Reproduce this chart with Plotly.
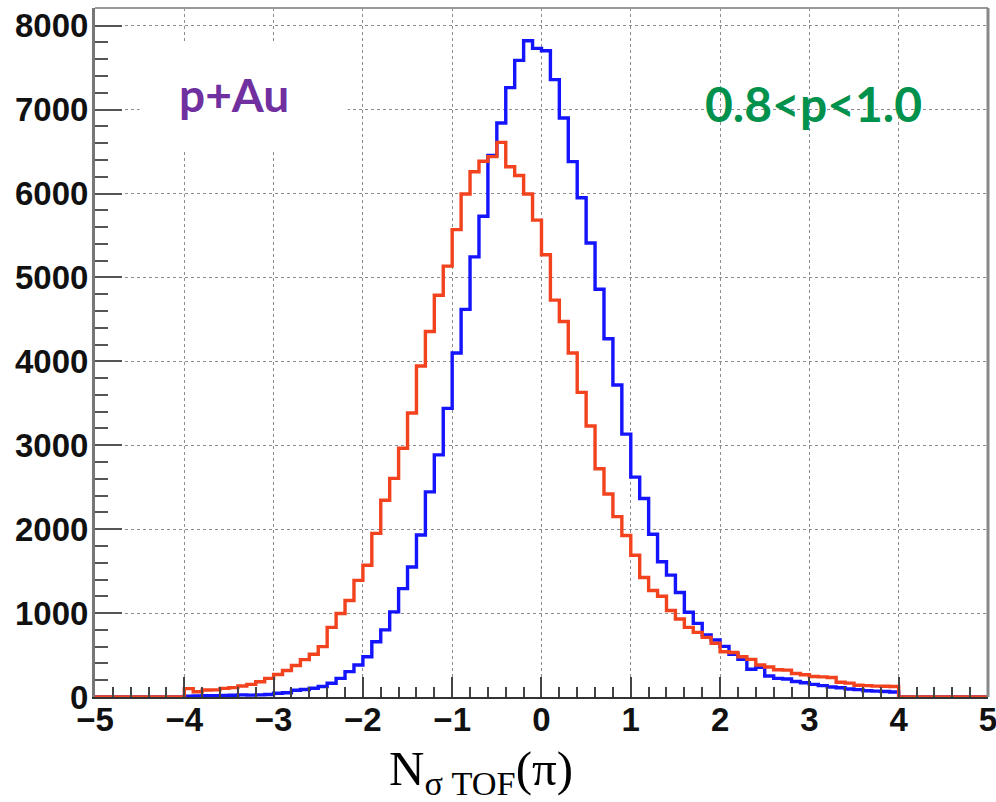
import numpy as np
import plotly.graph_objects as go

# ---------------- data ----------------
bin_lo = -4.0          # first filled bin
bin_w = 0.1            # bin width
axis_lo, axis_hi = -5.0, 5.0

blue_counts = [
    10, 12, 15, 15, 18, 20, 25, 22, 25, 30,
    45, 50, 80, 90, 105, 125, 163, 222, 302, 381,
    480, 658, 800, 1015, 1292, 1550, 1930, 2444, 2885, 3440,
    4100, 4620, 5245, 5730, 6455, 6840, 7262, 7587, 7820, 7730,
    7702, 7357, 6900, 6380, 5950, 5410, 4860, 4270, 3718, 3133,
    2620, 2365, 1940, 1611, 1452, 1245, 1010, 877, 738, 679,
    603, 510, 450, 330, 355, 250, 222, 215, 185, 170,
    150, 135, 120, 110, 95, 88, 75, 70, 65, 60,
]

red_counts = [
    100, 63, 83, 85, 103, 112, 131, 150, 182, 222,
    268, 315, 375, 445, 510, 600, 830, 995, 1150, 1390,
    1570, 1950, 2345, 2605, 2965, 3385, 3945, 4355, 4788, 5135,
    5570, 5995, 6260, 6385, 6440, 6610, 6320, 6215, 5995, 5683,
    5270, 4730, 4475, 4100, 3630, 3230, 2720, 2420, 2150, 1925,
    1690, 1425, 1270, 1200, 1030, 930, 830, 770, 710, 640,
    540, 530, 480, 448, 381, 357, 325, 320, 280, 265,
    245, 240, 232, 175, 165, 140, 135, 130, 128, 125,
]

x_tick_vals = [-5, -4, -3, -2, -1, 0, 1, 2, 3, 4, 5]
y_tick_vals = [0, 1000, 2000, 3000, 4000, 5000, 6000, 7000, 8000]

label_system = "p+Au"
label_range = "0.8<p<1.0"
x_title = "N<sub>σ TOF</sub>(π)"


def step_xy(counts):
    """Full-axis step outline (zero outside the filled bins)."""
    n_left = int(round((bin_lo - axis_lo) / bin_w))
    n_total = int(round((axis_hi - axis_lo) / bin_w))
    vals = [0] * n_left + list(counts)
    vals += [0] * (n_total - len(vals))
    edges = axis_lo + bin_w * np.arange(n_total + 1)
    xs = list(edges)
    ys = vals + [vals[-1]]
    return xs, ys


ymax = 1.05 * max(max(blue_counts), max(red_counts))

fig = go.Figure()
for counts, color in [(blue_counts, "#1414FF"), (red_counts, "#F2421E")]:
    xs, ys = step_xy(counts)
    fig.add_trace(go.Scatter(
        x=xs, y=ys, mode="lines",
        line=dict(color=color, width=3.4, shape="hv"),
        showlegend=False, hoverinfo="skip", cliponaxis=False,
    ))

tickfont = dict(family="Liberation Sans", size=33, color="#111", weight="bold")

fig.update_xaxes(
    range=[axis_lo, axis_hi + 0.0005], tickvals=x_tick_vals,
    ticktext=[str(v).replace("-", "\u2212") for v in x_tick_vals],
    ticks="inside", ticklen=20, tickwidth=2, tickcolor="#444",
    minor=dict(ticks="inside", ticklen=10, tickwidth=2, tickcolor="#444",
               dtick=0.2, showgrid=False),
    showgrid=True, gridcolor="#8c8c8c", griddash="dot", gridwidth=1.3,
    showline=True, linecolor="#333", linewidth=2, zeroline=False,
    tickfont=tickfont, ticklabelstandoff=-8, ticklabeloverflow="allow",
    automargin=False,
)
fig.update_yaxes(
    range=[0, ymax], tickvals=y_tick_vals,
    ticks="inside", ticklen=27, tickwidth=2, tickcolor="#555",
    minor=dict(ticks="inside", ticklen=13, tickwidth=2, tickcolor="#555",
               dtick=200, showgrid=False),
    showgrid=True, gridcolor="#8c8c8c", griddash="dot", gridwidth=1.3,
    showline=True, linecolor="#777", linewidth=3, zeroline=False,
    tickfont=tickfont, ticklabelstandoff=-3, ticklabeloverflow="allow",
    automargin=False,
)

# white label boxes that hide the grid, plus top/right frame
fig.add_shape(type="rect", xref="x", yref="y", x0=-4.5, x1=-2.17, y0=6510, y1=7800,
              fillcolor="white", line_width=0, layer="between")
fig.add_shape(type="rect", xref="x", yref="paper", x0=0.89, x1=5.0, y0=(6110 / ymax), y1=1,
              fillcolor="white", line_width=0, layer="between")
fig.add_shape(type="line", xref="paper", yref="paper", x0=0, x1=1, y0=1, y1=1,
              line=dict(color="#999", width=2), layer="above")
fig.add_shape(type="line", xref="paper", yref="paper", x0=1, x1=1, y0=0, y1=1,
              line=dict(color="#888", width=3), layer="above")

fig.add_annotation(x=-3.44, y=7185, xref="x", yref="y", text=label_system,
                   showarrow=False, xanchor="center", yanchor="middle",
                   font=dict(family="Lato", size=46, color="#7030A0", weight="bold"))
fig.add_annotation(x=3.05, y=7077, xref="x", yref="y", text=label_range,
                   showarrow=False, xanchor="center", yanchor="middle",
                   font=dict(family="Lato", size=48, color="#00914C", weight="bold"))
fig.add_annotation(x=0.432, y=-0.108, xref="paper", yref="paper", text=x_title,
                   showarrow=False, xanchor="center", yanchor="middle",
                   font=dict(family="Liberation Serif", size=49, color="black"))

fig.update_layout(
    width=996, height=802,
    margin=dict(l=95, r=8, t=8, b=105, autoexpand=False),
    paper_bgcolor="white", plot_bgcolor="white",
)

fig.write_html("out.html")
